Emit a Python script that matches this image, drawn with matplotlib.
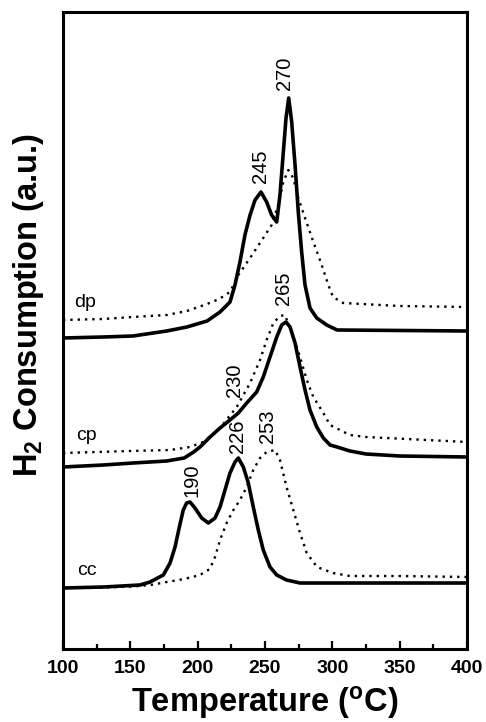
import matplotlib
matplotlib.use('Agg')
import matplotlib.pyplot as plt
from matplotlib.ticker import MultipleLocator

plt.rcParams['font.family'] = ['Liberation Sans', 'DejaVu Sans']
plt.rcParams['mathtext.default'] = 'regular'

# TPR profiles (temperature in C, signal in a.u. incl. offset)
cc_solid_t = [100, 130, 157.2, 164.6, 174.5, 179.5, 183.2, 186.4, 189.3, 191.8, 194.3, 198, 203, 207.9, 212.9,
              216.6, 220.3, 224, 227.7, 230.2, 233.9, 237.6, 241.3, 245, 248.7, 253.7, 258.7, 266, 276, 300, 350, 400]
cc_solid_y = [61, 62, 64, 67, 74, 86, 102, 122, 139, 146, 147, 141, 131, 126, 131,
              142, 159, 176, 187, 191, 182, 166, 142, 119, 99, 82, 74, 69, 66, 66, 66, 66]
cc_dot_t = [100, 130, 152, 165, 177, 190, 201.7, 209, 212.9, 216.6, 221.5, 226.5, 231.4, 236.4, 241.3, 246.3,
            251.2, 257.4, 261.1, 266, 271, 276, 281, 288.6, 300.5, 313, 350, 400]
cc_dot_y = [61, 61.5, 62.5, 64, 67, 70, 74, 80, 92, 109, 126, 139, 149, 162, 179, 191,
            197, 199, 189, 162, 139, 116, 96, 82, 76, 73, 73, 72]

cp_solid_t = [100, 130, 152, 177, 190, 197, 201.7, 209.2, 216.6, 224, 230.2, 236.4, 243.8, 248.7, 253.7, 258.7,
              262.4, 265.6, 268.6, 272.3, 276, 279.7, 283.4, 288.4, 293.3, 298.3, 303.5, 313, 325, 350, 400]
cp_solid_y = [182, 184, 186, 188, 191, 197, 202, 212, 221, 229, 236, 246, 257, 272, 292, 312,
              324, 327, 322, 306, 282, 259, 239, 222, 211, 204, 202, 198, 195, 193, 192]
cp_dot_t = [100, 150, 179.5, 194.3, 204.2, 216.6, 229, 238.9, 246.3, 251.2, 256.2, 261.1, 264.8, 271,
            276, 281, 285.9, 293.3, 298.3, 313, 325, 400]
cp_dot_y = [196, 198, 199, 202, 207, 221, 242, 266, 289, 309, 326, 333, 334, 312,
            292, 269, 252, 236, 224, 214, 212, 207]

dp_solid_t = [100, 130, 152, 177, 192, 207, 216.6, 224, 227.7, 231.4, 235.1, 238.9, 242.6, 247, 251.2, 254.9,
              258.7, 261.1, 263.6, 265.6, 267.6, 269.8, 272.3, 274.7, 277.2, 279.7, 283.4, 288.4, 295.8, 303.5, 400]
dp_solid_y = [311, 312, 313, 318, 322, 328, 337, 347, 364, 387, 414, 434, 449, 457, 447, 434,
              427, 454, 497, 531, 551, 527, 484, 437, 397, 364, 341, 331, 324, 319, 318]
dp_dot_t = [100, 130, 152, 177, 192, 207, 216, 224, 230.2, 238.9, 248.7, 254.9, 259.8, 263.6, 267.3, 271,
            274.7, 279.7, 285.9, 292.1, 297, 300.5, 308, 350, 400]
dp_dot_y = [329, 330, 332, 334, 338, 345, 350, 357, 374, 391, 411, 424, 444, 467, 479, 471,
            451, 431, 407, 384, 364, 352, 346, 343, 342]

peak_labels = ['270', '245', '265', '230', '253', '226', '190']
peak_t = [264.8, 246.3, 263.4, 227.7, 252.2, 229.2, 195.8]
peak_y = [559, 466, 344, 252, 206, 196, 152]

sample_names = ['dp', 'cp', 'cc']
sample_t = [116.5, 117.5, 117.5]
sample_y = [346, 213, 79]

fig = plt.figure(figsize=(4.86, 7.22), dpi=100)
ax = fig.add_axes([0.1296, 0.1011, 0.8314, 0.8823])

solid_kw = dict(color='black', lw=2.6, solid_joinstyle='round')
dot_kw = dict(color='black', lw=1.7, linestyle=(0, (1, 2.1)))

ax.plot(cc_dot_t, cc_dot_y, **dot_kw)
ax.plot(cc_solid_t, cc_solid_y, **solid_kw)
ax.plot(cp_dot_t, cp_dot_y, **dot_kw)
ax.plot(cp_solid_t, cp_solid_y, **solid_kw)
ax.plot(dp_dot_t, dp_dot_y, **dot_kw)
ax.plot(dp_solid_t, dp_solid_y, **solid_kw)

for lab, t, y in zip(peak_labels, peak_t, peak_y):
    ax.text(t, y, lab, rotation=90, ha='center', va='bottom', fontsize=14.5)
for lab, t, y in zip(sample_names, sample_t, sample_y):
    ax.text(t, y, lab, ha='center', va='center', fontsize=14)

ax.set_xlim(100, 400)
ax.set_ylim(0, 637)
ax.xaxis.set_major_locator(MultipleLocator(50))
ax.xaxis.set_minor_locator(MultipleLocator(25))
ax.tick_params(axis='x', which='major', direction='in', length=6, width=1.6,
               labelsize=14, pad=8, top=False)
ax.tick_params(axis='x', which='minor', direction='in', length=3.5, width=1.6, top=False)
ax.set_yticks([])
for lbl in ax.get_xticklabels():
    lbl.set_fontweight('bold')
for s in ax.spines.values():
    s.set_linewidth(2.2)

fig.text(265 / 486, 1 - 712 / 722, r'Temperature ($\mathregular{^o}$C)', fontsize=23.5,
         fontweight='bold', ha='center', va='baseline')
fig.text(29 / 486, 1 - 305 / 722, r'H$\mathregular{_2}$ Consumption (a.u.)', fontsize=23.5,
         fontweight='bold', ha='center', va='center', rotation=90)

fig.savefig('out.png', dpi=100)
